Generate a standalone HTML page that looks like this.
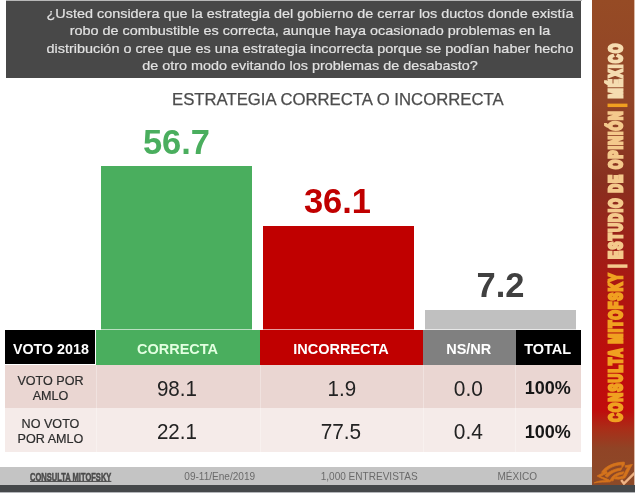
<!DOCTYPE html>
<html><head><meta charset="utf-8">
<style>
html,body{margin:0;padding:0;}
body{width:635px;height:493px;position:relative;overflow:hidden;background:#fff;font-family:"Liberation Sans",sans-serif;}
.abs{position:absolute;}
#q{left:6px;top:1px;width:575px;height:77px;overflow:hidden;background:#484848;color:#e2e2e2;-webkit-text-stroke:0.2px #e2e2e2;font-size:13.5px;line-height:17px;}
#q div{white-space:nowrap;position:absolute;left:15.8px;width:576px;text-align:center;transform:scaleX(1.067);transform-origin:50% 50%;}
#title{left:171.7px;top:90.2px;font-size:16px;color:#4c4c4c;-webkit-text-stroke:0.25px #4c4c4c;white-space:nowrap;line-height:20px;transform:scaleX(1.045);transform-origin:0 50%;}
.bar{position:absolute;}
.val{position:absolute;font-weight:700;font-size:35px;line-height:36px;white-space:nowrap;text-align:center;transform:scaleX(0.985);}
.th{position:absolute;top:329.8px;height:35.2px;line-height:38.6px;color:#fff;font-weight:700;font-size:14.5px;text-align:center;white-space:nowrap;}
.th span{display:inline-block;transform:translateX(-0.5px) scale(1,1.06);transform-origin:50% 68%;}
.td{position:absolute;text-align:center;white-space:nowrap;color:#222;}
.r1{top:365px;height:43px;background:#ead6d2;}
.r2{top:408px;height:44.4px;background:#f5ebe9;}
.num{font-size:22px;}
.num span{display:inline-block;transform:translateX(-1.5px) scaleX(0.935);}
.lab{font-size:12.6px;line-height:15px;color:#2c2c2c;-webkit-text-stroke:0.2px #2c2c2c;}
.tot{font-weight:700;font-size:18px;text-indent:-1px;color:#161616;}
.vd{position:absolute;top:365px;height:87.4px;width:1px;background:rgba(255,255,255,0.3);}
#side{left:592px;top:0;width:42px;height:485px;background:linear-gradient(to bottom,#964b25 0%,#914427 21%,#88301f 37%,#9c2018 50%,#b01410 62%,#be0d0c 74%,#c00c0c 84.5%,#a92e18 88.5%,#904426 92.5%,#8c4a28 100%);}
#sidetxt{position:absolute;left:0;top:0;transform-origin:0 0;white-space:nowrap;font-weight:700;font-size:11.8px;line-height:12px;color:#f0a020;-webkit-text-stroke:1.9px currentColor;letter-spacing:1.3px;}
#foot{left:0;top:467px;width:592px;height:18px;background:#c4c4c4;}
#dark{left:0;top:484.5px;width:635px;height:7.2px;background:#45484a;}
.ft{position:absolute;top:467.8px;height:18px;line-height:18px;font-size:10.05px;color:#6a6a6a;white-space:nowrap;}
</style></head>
<body>
<div id="q" class="abs">
<div style="top:3.8px">¿Usted considera que la estrategia del gobierno de cerrar los ductos donde existía</div>
<div style="top:20.8px">robo de combustible es correcta, aunque haya ocasionado problemas en la</div>
<div style="top:38.5px">distribución o cree que es una estrategia incorrecta porque se podían haber hecho</div>
<div style="top:56.2px">de otro modo evitando los problemas de desabasto?</div>
</div>
<div class="abs" style="left:6px;top:0;width:576px;height:1px;background:#b8b8b8"></div>
<div id="title" class="abs">ESTRATEGIA CORRECTA O INCORRECTA</div>

<div class="bar" style="left:101.3px;top:166px;width:151px;height:164px;background:#4aae5e"></div>
<div class="bar" style="left:262.8px;top:225.6px;width:151.5px;height:105px;background:#c00000"></div>
<div class="bar" style="left:424.7px;top:309.7px;width:151px;height:21px;background:#c0c0c0"></div>

<div class="val" style="left:101px;width:151px;top:123.8px;color:#4aae5e">56.7</div>
<div class="val" style="left:261.6px;width:151px;top:183.2px;color:#c00000">36.1</div>
<div class="val" style="left:424.5px;width:151px;top:267.1px;color:#404040">7.2</div>

<div class="abs" style="left:5px;top:329px;width:576px;height:36px;background:rgba(255,255,255,0.62)"></div>
<div class="th" style="left:5px;width:90.3px;background:#000;top:330.4px;height:34px;line-height:38.4px"><span style="transform:translateX(0.3px) scale(0.985,1.06)">VOTO 2018</span></div>
<div class="th" style="left:96.4px;width:163.3px;background:#4aae5e;color:#e2ffe0"><span>CORRECTA</span></div>
<div class="th" style="left:260.2px;width:162.6px;background:#c00000"><span>INCORRECTA</span></div>
<div class="th" style="left:423px;width:92.5px;background:#808080;top:330.4px;height:34.4px;line-height:38.4px"><span>NS/NR</span></div>
<div class="th" style="left:515.7px;width:65px;background:#000;top:330.4px;height:34.4px;line-height:38.4px"><span>TOTAL</span></div>

<div class="td r1 lab" style="left:5px;width:91px;"><div style="margin-top:9.1px">VOTO POR<br>AMLO</div></div>
<div class="td r1 num" style="left:96px;width:164px;line-height:48.2px"><span>98.1</span></div>
<div class="td r1 num" style="left:260px;width:163px;line-height:48.2px"><span style="transform:translateX(0.5px) scaleX(0.935)">1.9</span></div>
<div class="td r1 num" style="left:423px;width:92.5px;line-height:48.2px"><span style="transform:translateX(-0.9px) scaleX(0.95)">0.0</span></div>
<div class="td r1 tot" style="left:515.5px;width:65.7px;line-height:47.9px">100%</div>

<div class="td r2 lab" style="left:5px;width:91px;"><div style="margin-top:8.8px">NO VOTO<br>POR AMLO</div></div>
<div class="td r2 num" style="left:96px;width:164px;line-height:48.3px"><span>22.1</span></div>
<div class="td r2 num" style="left:260px;width:163px;line-height:48.3px"><span style="transform:translateX(-0.5px) scaleX(0.945)">77.5</span></div>
<div class="td r2 num" style="left:423px;width:92.5px;line-height:48.3px"><span style="transform:translateX(-0.9px) scaleX(0.95)">0.4</span></div>
<div class="td r2 tot" style="left:515.5px;width:65.7px;line-height:48.7px">100%</div>
<div class="vd" style="left:95.6px"></div><div class="vd" style="left:259.6px"></div><div class="vd" style="left:422.6px"></div><div class="vd" style="left:515px"></div>

<div id="foot" class="abs"></div>
<div class="ft" style="left:30px;font-weight:700;font-size:11px;color:#4a4a4a;text-decoration:underline;text-underline-offset:0px;-webkit-text-stroke:0.5px #4a4a4a;transform-origin:0 50%;transform:translateY(-0.1px) scaleX(0.685)">CONSULTA MITOFSKY</div>
<div class="ft" style="left:184.3px">09-11/Ene/2019</div>
<div class="ft" style="left:320.7px">1,000 ENTREVISTAS</div>
<div class="ft" style="left:497.4px">MÉXICO</div>

<div id="side" class="abs">
<div id="sidetxt" style="transform:translate(15px,421.7px) rotate(-90deg) scale(1,1.5)">CONSULTA MITOFSKY <span style="color:#f4c98c">| ESTUDIO DE OPINIÓN</span><span style="margin-left:-1.5px"> | </span><span style="color:#f5dcb0;letter-spacing:1.6px;margin-left:-0.5px">MÉXICO</span></div>
</div>
<svg class="abs" style="left:590px;top:455px" width="45" height="38" viewBox="0 0 584 493">
<defs><filter id="bl" x="-10%" y="-10%" width="120%" height="120%"><feGaussianBlur stdDeviation="5"/></filter></defs>
<g fill="#d4731b" stroke="#d4731b" stroke-width="10" stroke-linejoin="round" filter="url(#bl)">
<path d="M150,225 C200,140 320,95 445,92 C455,115 440,150 412,165 C415,140 415,128 405,128 C320,132 240,165 185,235 Z"/>
<path d="M195,270 C250,205 330,175 415,168 L400,198 C330,205 270,235 225,290 Z"/>
<path d="M262,335 C280,265 350,228 440,218 L425,248 C370,255 320,280 300,335 Z"/>
<path d="M455,140 L550,122 C510,180 490,240 455,295 C400,318 350,315 318,308 C330,290 335,285 345,285 C390,290 420,280 435,265 C455,225 470,185 495,155 L460,160 Z"/>
<path d="M55,360 C110,330 190,335 265,328 L262,348 C200,352 120,350 55,362 Z"/>
<path d="M95,270 C140,245 180,230 215,212 L225,235 C190,250 160,262 130,280 C170,295 215,305 250,325 L235,340 C190,318 140,300 95,275 Z"/>
</g>
<path d="M405,325 L440,372 L590,222" fill="none" stroke="#efb384" stroke-width="30" filter="url(#bl)"/>
</svg>
<div class="abs" style="left:634px;top:0;width:1px;height:485px;background:#d9b9a6"></div>
<div id="dark" class="abs"></div>
<div class="abs" style="left:0;top:492px;width:635px;height:1px;background:#b4b6ba"></div>
</body></html>
